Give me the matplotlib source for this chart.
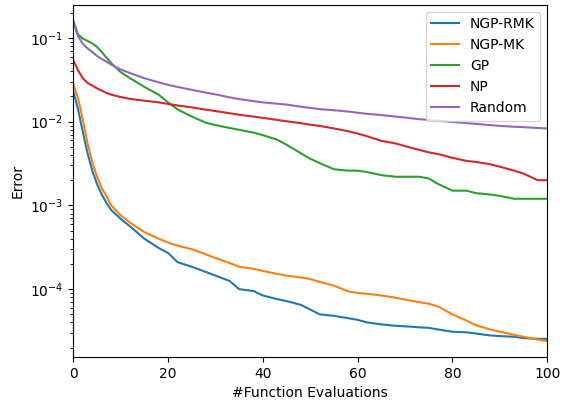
import numpy as np
import matplotlib
matplotlib.use("Agg")
import matplotlib.pyplot as plt

evals = [0, 1, 2, 3, 4, 5, 6, 7, 8, 10, 12, 15, 18, 20, 22, 25, 28, 30, 33, 35,
         38, 40, 43, 45, 48, 50, 52, 55, 58, 60, 62, 65, 68, 70, 73, 75, 77, 80,
         83, 85, 88, 90, 93, 95, 98, 100]

ngp_rmk = [2.3e-2, 1.4e-2, 7.5e-3, 4.2e-3, 2.6e-3, 1.8e-3, 1.35e-3, 1.07e-3, 8.8e-4,
           6.9e-4, 5.6e-4, 4.0e-4, 3.1e-4, 2.7e-4, 2.1e-4, 1.85e-4, 1.6e-4, 1.45e-4,
           1.25e-4, 1.0e-4, 9.5e-5, 8.4e-5, 7.6e-5, 7.2e-5, 6.5e-5, 5.7e-5, 5.0e-5,
           4.8e-5, 4.5e-5, 4.3e-5, 4.0e-5, 3.8e-5, 3.65e-5, 3.6e-5, 3.5e-5, 3.45e-5,
           3.3e-5, 3.1e-5, 3.05e-5, 2.95e-5, 2.8e-5, 2.75e-5, 2.7e-5, 2.6e-5,
           2.55e-5, 2.55e-5]

ngp_mk = [2.8e-2, 1.9e-2, 1.05e-2, 5.5e-3, 3.3e-3, 2.2e-3, 1.6e-3, 1.29e-3, 1.0e-3,
          7.6e-4, 6.2e-4, 4.8e-4, 4.0e-4, 3.6e-4, 3.3e-4, 3.0e-4, 2.6e-4, 2.35e-4,
          2.05e-4, 1.85e-4, 1.75e-4, 1.65e-4, 1.52e-4, 1.45e-4, 1.38e-4, 1.32e-4,
          1.22e-4, 1.1e-4, 9.4e-5, 9.0e-5, 8.8e-5, 8.4e-5, 7.9e-5, 7.5e-5, 7.0e-5,
          6.7e-5, 6.2e-5, 5.0e-5, 4.2e-5, 3.7e-5, 3.3e-5, 3.1e-5, 2.85e-5, 2.7e-5,
          2.5e-5, 2.4e-5]

gp = [0.16, 0.11, 0.098, 0.092, 0.086, 0.078, 0.068, 0.058, 0.05, 0.039, 0.033,
      0.026, 0.021, 0.017, 0.014, 0.0115, 0.0097, 0.0091, 0.0084, 0.0080, 0.0074,
      0.0069, 0.0061, 0.0053, 0.0042, 0.0036, 0.0032, 0.0027, 0.0026, 0.0026,
      0.0025, 0.0023, 0.0022, 0.0022, 0.0022, 0.0021, 0.0018, 0.0015, 0.0015,
      0.0014, 0.00135, 0.0013, 0.0012, 0.0012, 0.0012, 0.0012]

np_err = [0.054, 0.041, 0.033, 0.029, 0.027, 0.025, 0.0235, 0.022, 0.021, 0.0197,
          0.0187, 0.0178, 0.017, 0.0163, 0.0156, 0.0148, 0.0139, 0.0134, 0.0126,
          0.0121, 0.0115, 0.0111, 0.0105, 0.0101, 0.0096, 0.0092, 0.0089, 0.0083,
          0.0077, 0.0072, 0.0067, 0.0059, 0.0055, 0.0051, 0.0046, 0.0043, 0.0041,
          0.0037, 0.0034, 0.0033, 0.0031, 0.0029, 0.0026, 0.0024, 0.0020, 0.0020]

random_err = [0.156, 0.104, 0.085, 0.075, 0.068, 0.061, 0.056, 0.052, 0.048, 0.042,
              0.038, 0.033, 0.0295, 0.0275, 0.026, 0.0240, 0.0222, 0.0212, 0.0195,
              0.0186, 0.0176, 0.017, 0.0164, 0.016, 0.0151, 0.0146, 0.0141, 0.0137,
              0.0132, 0.0128, 0.0124, 0.012, 0.0115, 0.0112, 0.0107, 0.0105, 0.0103,
              0.0099, 0.0096, 0.0094, 0.0091, 0.0089, 0.0087, 0.0086, 0.0084, 0.0083]

series = [("NGP-RMK", ngp_rmk), ("NGP-MK", ngp_mk), ("GP", gp),
          ("NP", np_err), ("Random", random_err)]

fig = plt.figure(figsize=(5.73, 4.03), dpi=100)
ax = fig.add_axes([0.128, 0.114, 0.827, 0.874])
for name, vals in series:
    ax.plot(evals, vals, label=name)
ax.set_yscale('log')
ax.set_xlim(0, 100)
ax.set_xlabel("#Function Evaluations")
ax.set_ylabel("Error")
ax.legend(loc='upper right')
fig.savefig("out.png", dpi=100)
